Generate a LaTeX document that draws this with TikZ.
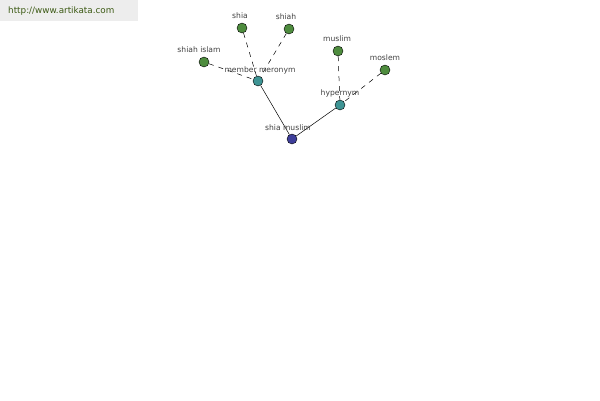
\documentclass[tikz,border=0pt]{standalone}
\usepackage{fontspec}
\setmainfont{DejaVu Sans}
\definecolor{leafg}{HTML}{4E8C3E}
\definecolor{relt}{HTML}{3E9494}
\definecolor{rootb}{HTML}{3E3E9A}
\definecolor{hdrbg}{HTML}{EDEDED}
\definecolor{hdrtx}{HTML}{3C5A14}
\definecolor{lbl}{HTML}{404040}
\begin{document}
\begin{tikzpicture}[x=1pt,y=-1pt,
  dot/.style={circle,draw=black,line width=0.4pt,minimum size=10pt,inner sep=0pt},
  leaf/.style={dot,fill=leafg},
  rel/.style={dot,fill=relt},
  root/.style={dot,fill=rootb},
  lab/.style={font=\fontsize{7.6}{8}\selectfont,text=lbl,inner sep=0pt},
  dsh/.style={dashed,dash pattern=on 5pt off 5pt,line width=0.5pt},
  sol/.style={line width=0.5pt}]
\useasboundingbox (0,0) rectangle (600,400);
\fill[white] (0,0) rectangle (600,400);
\fill[hdrbg] (0,0) rectangle (138,21);
\node[anchor=west,font=\fontsize{8.8}{9}\selectfont,text=hdrtx,inner sep=0pt] (hdr) at (8,11) {http://www.artikata.com};
% nodes
\node[root] (sm) at (292,139) {};
\node[rel] (mm) at (258,81) {};
\node[rel] (hy) at (340,105) {};
\node[leaf] (shia) at (242,28) {};
\node[leaf] (shiah) at (289,29) {};
\node[leaf] (si) at (204,62) {};
\node[leaf] (mu) at (338,51) {};
\node[leaf] (mo) at (385,70) {};
% edges
\draw[sol] (sm) -- (mm);
\draw[sol] (sm) -- (hy);
\draw[dsh] (shia) -- (mm);
\draw[dsh] (shiah) -- (mm);
\draw[dsh] (si) -- (mm);
\draw[dsh] (mu) -- (hy);
\draw[dsh] (mo) -- (hy);
% labels
\node[lab] (lsm) at (288,128) {shia muslim};
\node[lab] (lmm) at (260,70) {member meronym};
\node[lab] (lhy) at (340,93) {hypernym};
\node[lab] (lshia) at (240,16) {shia};
\node[lab] (lshiah) at (286,17) {shiah};
\node[lab] (lsi) at (199,50) {shiah islam};
\node[lab] (lmu) at (337,39) {muslim};
\node[lab] (lmo) at (385,58) {moslem};
\end{tikzpicture}
\end{document}
